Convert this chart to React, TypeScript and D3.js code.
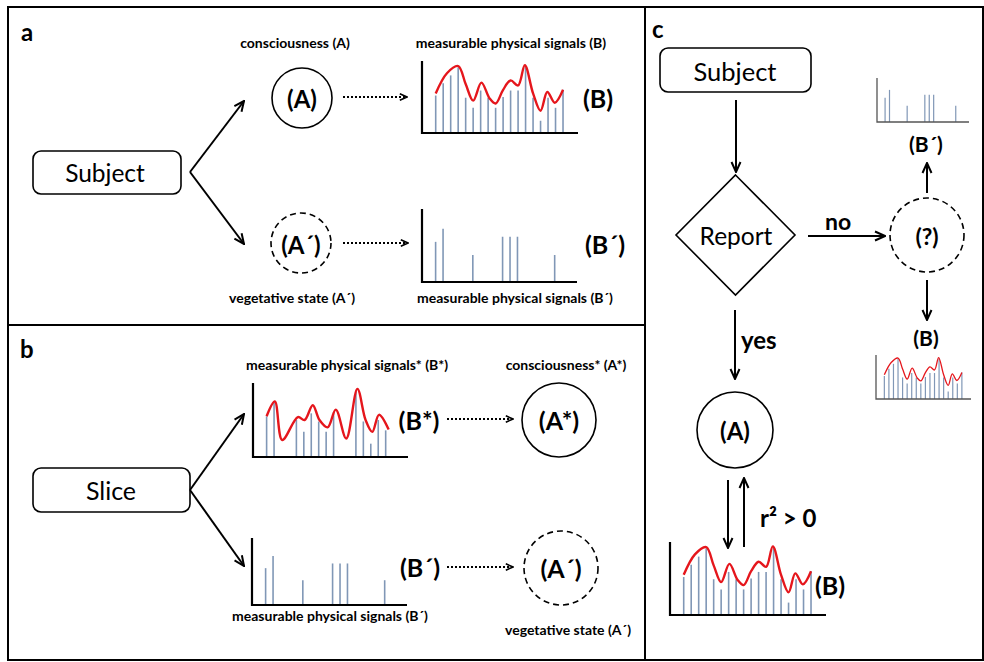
import React from 'react';
import * as d3 from 'd3';

// bar slots of a signal trace (18 positions)
const slots = [0, 1, 2, 3, 4, 5, 6, 7, 8, 9, 10, 11, 12, 13, 14, 15, 16, 17];
// bar heights as share of axis height, conscious signal (B)
const signalB = [0.52, 0.69, 0.8, 0.91, 0.49, 0.35, 0.59, 0.49, 0.35, 0.5, 0.59, 0.59, 0.92, 0.49, 0.17, 0.49, 0.35, 0.6];
// red envelope of (B): knot positions and heights
const curveBAt = [0, 1.5, 3, 4, 5, 6.1, 7.2, 8, 9, 10, 11, 11.9, 13, 14, 14.9, 15.9, 17];
const curveB = [0.55, 0.83, 0.93, 0.68, 0.45, 0.7, 0.48, 0.41, 0.6, 0.73, 0.66, 0.94, 0.55, 0.31, 0.57, 0.42, 0.6];
// vegetative signal (B´): few bars left
const sparseSlots = [0, 1, 5, 9, 10, 11, 16];
const sparseB = [0.55, 0.73, 0.37, 0.62, 0.62, 0.62, 0.37];
// slice signal (B*)
const starSlots = [0, 1, 4, 5, 6, 7, 8, 9, 12, 13, 14, 15, 16];
const starB = [0.55, 0.73, 0.5, 0.34, 0.59, 0.48, 0.34, 0.61, 0.89, 0.48, 0.18, 0.5, 0.36];
const curveStarAt = [0, 1.1, 2.1, 4.2, 5.1, 6.2, 7.1, 8.2, 9.3, 10.7, 12.2, 13.3, 14.2, 15.1, 16.4];
const curveStar = [0.55, 0.75, 0.23, 0.54, 0.5, 0.7, 0.5, 0.4, 0.64, 0.25, 0.92, 0.5, 0.34, 0.57, 0.37];

const FONT = 'Lato, "Open Sans", sans-serif';
const BAR = '#8097b6';
const RED = '#e5161c';
const SMALL = 14;

type SigProps = {
  left: number; top: number; right: number; base: number;
  at: number[]; vals: number[];
  curveAt?: number[]; curveVals?: number[];
  small?: boolean;
};

const Signal = ({ left, top, right, base, at, vals, curveAt, curveVals, small }: SigProps) => {
  const x = d3.scaleLinear().domain([-1.83, 19]).range([left, right]);
  const y = d3.scaleLinear().domain([0, 1]).range([base, top]);
  let curvePath: string | null = null;
  if (curveAt && curveVals) {
    const line = d3.line<number>()
      .x((d, i) => x(curveAt[i]))
      .y(d => y(d))
      .curve(d3.curveCatmullRom.alpha(0.5));
    curvePath = line(curveVals);
  }
  return (
    <g>
      {at.map((s, i) => (
        <line key={i} x1={x(s)} x2={x(s)} y1={y(0)} y2={y(vals[i])}
          stroke={BAR} strokeWidth={small ? 1.2 : 1.6} />
      ))}
      {curvePath && <path d={curvePath} fill="none" stroke={RED} strokeWidth={small ? 1.3 : 2.4} />}
      <path d={`M${left},${top} V${base} H${right}`} fill="none"
        stroke={small ? '#555' : '#000'} strokeWidth={small ? 1.3 : 2.2} />
    </g>
  );
};

const Arrow = ({ x1, y1, x2, y2, dotted }: { x1: number; y1: number; x2: number; y2: number; dotted?: boolean }) => (
  <line x1={x1} y1={y1} x2={x2} y2={y2} stroke="#000" strokeWidth={2}
    strokeDasharray={dotted ? '2,2' : undefined} markerEnd={dotted ? 'url(#head-s)' : 'url(#head)'} />
);

const Label = ({ x, y, size, bold, children, anchor = 'middle' }: any) => (
  <text x={x} y={y} fontSize={size} fontWeight={bold ? 700 : 400} textAnchor={anchor}
    dominantBaseline="central" fontFamily={FONT} fill="#000">{children}</text>
);

export default function App() {
  return (
    <svg width={984} height={662} style={{ position: 'absolute', left: 0, top: 0, background: '#fff' }}>
      <defs>
        <marker id="head" viewBox="0 0 12 12" refX={11} refY={6} markerWidth={12} markerHeight={12}
          orient="auto" markerUnits="userSpaceOnUse">
          <path d="M1,1.5 L11,6 L1,10.5" fill="none" stroke="#000" strokeWidth={2} />
        </marker>
        <marker id="head-s" viewBox="0 0 10 10" refX={9} refY={5} markerWidth={9} markerHeight={9}
          orient="auto" markerUnits="userSpaceOnUse">
          <path d="M1,1.5 L9,5 L1,8.5" fill="none" stroke="#000" strokeWidth={1.8} />
        </marker>
      </defs>

      {/* panel frames */}
      <rect x={8} y={7} width={975} height={653} fill="none" stroke="#000" strokeWidth={2} />
      <line x1={645} x2={645} y1={7} y2={660} stroke="#000" strokeWidth={2} />
      <line x1={8} x2={645} y1={325} y2={325} stroke="#000" strokeWidth={2} />

      {/* ---- panel a ---- */}
      <Label x={21} y={31} size={24} bold anchor="start">a</Label>
      <rect x={33} y={151} width={148} height={43} rx={8} fill="none" stroke="#000" strokeWidth={1.6} />
      <Label x={105} y={172} size={24.5}>Subject</Label>
      <Arrow x1={190} y1={172} x2={244} y2={101} />
      <Arrow x1={190} y1={172} x2={244} y2={244} />

      <Label x={295} y={42} size={SMALL} bold>consciousness (A)</Label>
      <circle cx={302} cy={98} r={30} fill="none" stroke="#000" strokeWidth={1.6} />
      <Label x={302} y={98} size={24} bold>(A)</Label>
      <Arrow x1={343} y1={97} x2={407} y2={97} dotted />
      <Label x={511} y={42} size={SMALL} bold>measurable physical signals (B)</Label>
      <Signal left={422} top={61} right={578} base={133} at={slots} vals={signalB} curveAt={curveBAt} curveVals={curveB} />
      <Label x={598} y={98} size={25} bold>(B)</Label>

      <circle cx={301} cy={243} r={30} fill="none" stroke="#000" strokeWidth={1.6} strokeDasharray="6,4" />
      <Label x={301} y={244} size={24} bold>(A´)</Label>
      <Arrow x1={343} y1={243} x2={408} y2={243} dotted />
      <Signal left={422} top={209} right={577} base={282} at={sparseSlots} vals={sparseB} />
      <Label x={605} y={244} size={25} bold>(B´)</Label>
      <Label x={292} y={297} size={SMALL} bold>vegetative state (A´)</Label>
      <Label x={515} y={297} size={SMALL} bold>measurable physical signals (B´)</Label>

      {/* ---- panel b ---- */}
      <Label x={20} y={348} size={24} bold anchor="start">b</Label>
      <rect x={33} y={468} width={157} height={44} rx={8} fill="none" stroke="#000" strokeWidth={1.6} />
      <Label x={111} y={490} size={25}>Slice</Label>
      <Arrow x1={190} y1={490} x2={244} y2={414} />
      <Arrow x1={190} y1={490} x2={244} y2={566} />

      <Label x={347} y={364} size={SMALL} bold>measurable physical signals* (B*)</Label>
      <Signal left={253} top={383} right={408} base={457} at={starSlots} vals={starB} curveAt={curveStarAt} curveVals={curveStar} />
      <Label x={419} y={420} size={25} bold>(B*)</Label>
      <Arrow x1={447} y1={419} x2={513} y2={419} dotted />
      <Label x={566} y={364} size={SMALL} bold>consciousness* (A*)</Label>
      <circle cx={559} cy={420} r={37} fill="none" stroke="#000" strokeWidth={1.6} />
      <Label x={559} y={420} size={25} bold>(A*)</Label>

      <Signal left={252} top={538} right={407} base={605} at={sparseSlots} vals={sparseB} />
      <Label x={420} y={567} size={25} bold>(B´)</Label>
      <Arrow x1={447} y1={567} x2={513} y2={567} dotted />
      <circle cx={561} cy={568} r={37} fill="none" stroke="#000" strokeWidth={1.6} strokeDasharray="6,4" />
      <Label x={561} y={568} size={25} bold>(A´)</Label>
      <Label x={330} y={615} size={SMALL} bold>measurable physical signals (B´)</Label>
      <Label x={568} y={629} size={SMALL} bold>vegetative state (A´)</Label>

      {/* ---- panel c ---- */}
      <Label x={652} y={28} size={24} bold anchor="start">c</Label>
      <rect x={660} y={48} width={151} height={44} rx={8} fill="none" stroke="#000" strokeWidth={1.6} />
      <Label x={735} y={71} size={25.5}>Subject</Label>
      <Arrow x1={736} y1={100} x2={736} y2={172} />
      <path d="M735.5,175 L795,235 L735.5,295 L676,235 Z" fill="none" stroke="#000" strokeWidth={1.6} />
      <Label x={736} y={235} size={24.5}>Report</Label>
      <Arrow x1={808} y1={236} x2={885} y2={236} />
      <Label x={838} y={221} size={23} bold>no</Label>
      <circle cx={927} cy={235} r={37} fill="none" stroke="#000" strokeWidth={1.6} strokeDasharray="6,4" />
      <Label x={927} y={236} size={23} bold>(?)</Label>

      <Arrow x1={927} y1={193} x2={927} y2={163} />
      <Label x={926} y={143} size={21} bold>(B´)</Label>
      <Signal left={877} top={78} right={969} base={122} at={sparseSlots} vals={sparseB} small />

      <Arrow x1={927} y1={280} x2={927} y2={320} />
      <Label x={926} y={337} size={21} bold>(B)</Label>
      <Signal left={876} top={355} right={971} base={399} at={slots} vals={signalB} curveAt={curveBAt} curveVals={curveB} small />

      <Arrow x1={735} y1={310} x2={735} y2={379} />
      <Label x={741} y={339} size={24} bold anchor="start">yes</Label>
      <circle cx={735} cy={430} r={38} fill="none" stroke="#000" strokeWidth={1.6} />
      <Label x={735} y={430} size={24} bold>(A)</Label>
      <Arrow x1={728} y1={480} x2={728} y2={548} />
      <Arrow x1={744} y1={547} x2={744} y2={478} />
      <Label x={760} y={517} size={24} bold anchor="start">r² &gt; 0</Label>
      <Signal left={670} top={542} right={826} base={615} at={slots} vals={signalB} curveAt={curveBAt} curveVals={curveB} />
      <Label x={830} y={585} size={25} bold>(B)</Label>
    </svg>
  );
}
